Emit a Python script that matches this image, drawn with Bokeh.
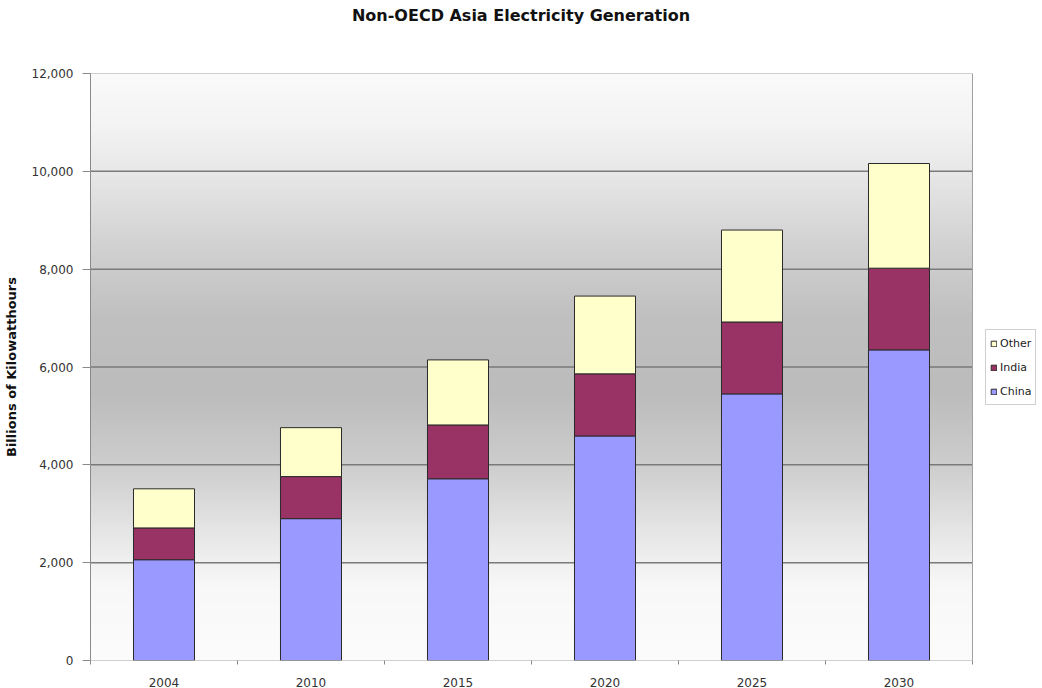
import numpy as np
from bokeh.plotting import figure
from bokeh.layouts import column
from bokeh.models import (Range1d, FixedTicker, NumeralTickFormatter,
                          Legend, LegendItem, Div)
from bokeh.embed import file_html
from bokeh.resources import INLINE

years = ["2004", "2010", "2015", "2020", "2025", "2030"]
china = [2060, 2900, 3715, 4590, 5450, 6350]
india = [650, 860, 1100, 1270, 1470, 1670]
other = [800, 1000, 1330, 1590, 1880, 2140]
y_ticks = [0, 2000, 4000, 6000, 8000, 10000, 12000]
series = ["China", "India", "Other"]
colors = ["#9999FF", "#993366", "#FFFFCC"]
title_text = "Non-OECD Asia Electricity Generation"

FONT = "DejaVu Sans"

ncat = len(years)
pos = [i + 0.5 for i in range(ncat)]
bounds = list(range(ncat + 1))
ymax = y_ticks[-1]

# frame extends to the right edge so the legend can sit beside the plot area
x_end = ncat * 952 / 882

title_div = Div(text=title_text, width=1042, height=32, margin=0,
                styles={"text-align": "center", "line-height": "32px", "font-family": FONT,
                        "font-size": "16px", "font-weight": "bold", "color": "#111111",
                        "background-color": "white"})

p = figure(frame_width=952, frame_height=587, x_range=Range1d(0, x_end), y_range=Range1d(0, ymax),
           output_backend="svg", toolbar_location=None, margin=0,
           min_border_left=90, min_border_right=0, min_border_bottom=28, min_border_top=41)
p.background_fill_color = "white"
p.border_fill_color = "white"
p.outline_line_color = None

# background gradient (decoration)
n = 240
ys = np.linspace(0, ymax, n)
stops_y = [0, 1500, 2500, 4000, 5500, 7000, 8500, 10000, 11000, 12000]
stops_v = [252, 248, 232, 205, 188, 192, 210, 232, 244, 250]
vals = np.interp(ys, stops_y, stops_v).astype(np.uint32)
img = np.empty((n, 1), dtype=np.uint32)
img[:, 0] = (255 << 24) | (vals << 16) | (vals << 8) | vals
p.image_rgba(image=[img], x=0, y=0, dw=ncat, dh=ymax, level="image")

# horizontal gridlines across the plot area
grid_y = y_ticks[1:-1]
p.segment(x0=[0] * len(grid_y), x1=[ncat] * len(grid_y), y0=grid_y, y1=grid_y,
          line_color="#7a7a7a", line_width=1.5)

data = {"pos": pos, "China": china, "India": india, "Other": other}
renderers = p.vbar_stack(series, x="pos", width=0.415, source=data, color=colors,
                         line_color="#2a2a2a", line_width=1)

# plot-area border
p.quad(left=[0], right=[ncat], bottom=[0], top=[ymax], fill_color=None,
       line_color="#a0a0a0", line_width=1)

p.xgrid.grid_line_color = None
p.ygrid.grid_line_color = None

p.xaxis.ticker = FixedTicker(ticks=pos, minor_ticks=bounds)
p.xaxis.major_label_overrides = {pp: y for pp, y in zip(pos, years)}
p.yaxis.ticker = FixedTicker(ticks=y_ticks)
p.yaxis.formatter = NumeralTickFormatter(format="0,0")
p.yaxis.axis_label = "Billions of Kilowatthours"
p.yaxis.axis_label_text_font = FONT
p.yaxis.axis_label_text_font_size = "13px"
p.yaxis.axis_label_text_font_style = "bold"
p.yaxis.axis_label_text_color = "#111111"
p.yaxis.axis_label_standoff = 10
for ax in (p.xaxis, p.yaxis):
    ax.major_label_text_font = FONT
    ax.major_label_text_font_size = "12px"
    ax.major_label_text_color = "#333333"
    ax.major_tick_line_color = "#8a8a8a"
p.yaxis.axis_line_color = "#8a8a8a"
p.xaxis.axis_line_color = None
p.yaxis.minor_tick_line_color = None
p.yaxis.major_tick_out = 8
p.yaxis.major_tick_in = 0
p.yaxis.major_label_standoff = 9
p.xaxis.major_tick_line_color = None
p.xaxis.minor_tick_line_color = "#8a8a8a"
p.xaxis.minor_tick_out = 4
p.xaxis.minor_tick_in = 0
p.xaxis.major_label_standoff = 11

items = [LegendItem(label=s, renderers=[r]) for s, r in zip(series, renderers)][::-1]
legend = Legend(items=items, location=(895, 255), orientation="vertical",
                label_text_font=FONT, label_text_font_size="11px", label_text_color="#222222",
                glyph_width=7, glyph_height=7, label_height=18, spacing=6,
                padding=4, margin=0, label_standoff=3,
                border_line_color="#a0a0a0", background_fill_color="white", background_fill_alpha=1)
p.add_layout(legend, "center")

layout = column(title_div, p, margin=0, spacing=0)
open("out.html", "w").write(file_html(layout, INLINE))
